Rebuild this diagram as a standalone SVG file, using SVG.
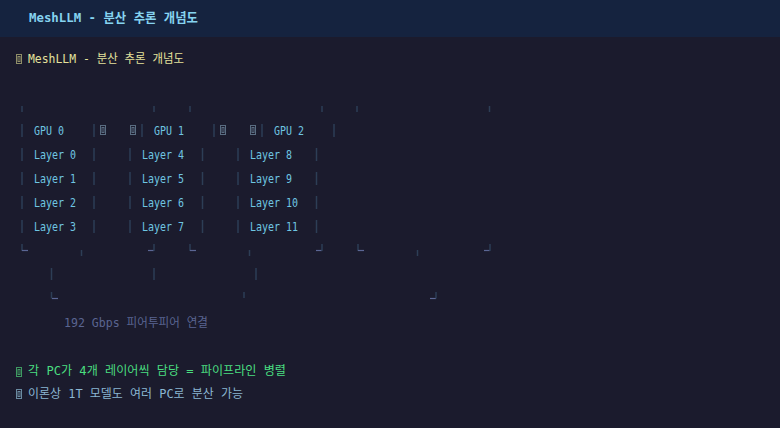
<svg xmlns="http://www.w3.org/2000/svg" width="780" height="428" viewBox="0 0 780 428">
<style>
.t{font-family:"DejaVu Sans Mono","Noto Sans CJK KR",monospace;font-size:12px}
.hd{font-size:13px;font-weight:bold;fill:#86d3f0}
.ttl{fill:#e4e29c}
.gl{fill:#6fc6e2}
.bar{stroke:#2d3e56;stroke-width:1.5}
.hz{stroke:#5b6694;stroke-width:1.2}
.tofu{fill:none;stroke-width:1}
.note{fill:#5a6591}
.ok{fill:#4ade80}
.tip{fill:#8ab6d2}
</style>
<defs>
<g id="tf">
<rect class="tofu" x="0.5" y="0.5" width="5" height="9"/>
<rect class="tofu" x="2" y="2.5" width="2" height="5"/>
</g>
<path id="rb" d="M0,0V13M0,24V37M0,48V61M0,72V85" class="bar"/>
</defs>
<rect width="780" height="428" fill="#1b1b2d"/>
<rect width="780" height="37" fill="#15233f"/>
<text class="t hd" x="29" y="22" textLength="169" lengthAdjust="spacingAndGlyphs">MeshLLM - 분산 추론 개념도</text>

<g id="title">
<use href="#tf" x="16" y="54" stroke="#8f8e68"/>
<text class="t ttl" x="28" y="63" textLength="156" lengthAdjust="spacingAndGlyphs">MeshLLM - 분산 추론 개념도</text>
</g>

<g id="gpu0">
<line class="bar" x1="22" y1="106" x2="22" y2="112"/>
<line class="bar" x1="154" y1="106" x2="154" y2="112"/>
<line class="bar" x1="22" y1="124" x2="22" y2="137"/>
<line class="bar" x1="94" y1="124" x2="94" y2="137"/>
<text class="t gl" x="34" y="135" textLength="30" lengthAdjust="spacingAndGlyphs">GPU 0</text>
<use href="#rb" x="22" y="148"/>
<use href="#rb" x="94" y="148"/>
<text class="t gl" x="34" y="159" textLength="42" lengthAdjust="spacingAndGlyphs">Layer 0</text>
<text class="t gl" x="34" y="183" textLength="42" lengthAdjust="spacingAndGlyphs">Layer 1</text>
<text class="t gl" x="34" y="207" textLength="42" lengthAdjust="spacingAndGlyphs">Layer 2</text>
<text class="t gl" x="34" y="231" textLength="42" lengthAdjust="spacingAndGlyphs">Layer 3</text>
</g>

<g id="gpu1">
<line class="bar" x1="190" y1="106" x2="190" y2="112"/>
<line class="bar" x1="322" y1="106" x2="322" y2="112"/>
<line class="bar" x1="142" y1="124" x2="142" y2="137"/>
<line class="bar" x1="214" y1="124" x2="214" y2="137"/>
<text class="t gl" x="154" y="135" textLength="30" lengthAdjust="spacingAndGlyphs">GPU 1</text>
<use href="#rb" x="130" y="148"/>
<use href="#rb" x="202.5" y="148"/>
<text class="t gl" x="142" y="159" textLength="42" lengthAdjust="spacingAndGlyphs">Layer 4</text>
<text class="t gl" x="142" y="183" textLength="42" lengthAdjust="spacingAndGlyphs">Layer 5</text>
<text class="t gl" x="142" y="207" textLength="42" lengthAdjust="spacingAndGlyphs">Layer 6</text>
<text class="t gl" x="142" y="231" textLength="42" lengthAdjust="spacingAndGlyphs">Layer 7</text>
</g>

<g id="gpu2">
<line class="bar" x1="357" y1="106" x2="357" y2="112"/>
<line class="bar" x1="489.5" y1="106" x2="489.5" y2="112"/>
<line class="bar" x1="262" y1="124" x2="262" y2="137"/>
<line class="bar" x1="334" y1="124" x2="334" y2="137"/>
<text class="t gl" x="274" y="135" textLength="30" lengthAdjust="spacingAndGlyphs">GPU 2</text>
<use href="#rb" x="238" y="148"/>
<use href="#rb" x="316.5" y="148"/>
<text class="t gl" x="250" y="159" textLength="42" lengthAdjust="spacingAndGlyphs">Layer 8</text>
<text class="t gl" x="250" y="183" textLength="42" lengthAdjust="spacingAndGlyphs">Layer 9</text>
<text class="t gl" x="250" y="207" textLength="48" lengthAdjust="spacingAndGlyphs">Layer 10</text>
<text class="t gl" x="250" y="231" textLength="48" lengthAdjust="spacingAndGlyphs">Layer 11</text>
</g>

<g id="connectors">
<use href="#tf" x="100" y="125" stroke="#5a6d82"/>
<use href="#tf" x="130" y="125" stroke="#5a6d82"/>
<use href="#tf" x="220" y="125" stroke="#5a6d82"/>
<use href="#tf" x="250" y="125" stroke="#5a6d82"/>
<line class="bar" x1="22" y1="244" x2="22" y2="251"/>
<line class="hz" x1="22" y1="250.5" x2="28" y2="250.5"/>
<line class="bar" x1="81.5" y1="250" x2="81.5" y2="256"/>
<line class="hz" x1="148" y1="250.5" x2="154" y2="250.5"/>
<line class="bar" x1="154" y1="244" x2="154" y2="251"/>
<line class="bar" x1="190" y1="244" x2="190" y2="251"/>
<line class="hz" x1="190" y1="250.5" x2="196" y2="250.5"/>
<line class="bar" x1="249.5" y1="250" x2="249.5" y2="256"/>
<line class="hz" x1="316" y1="250.5" x2="322" y2="250.5"/>
<line class="bar" x1="322" y1="244" x2="322" y2="251"/>
<line class="bar" x1="358" y1="244" x2="358" y2="251"/>
<line class="hz" x1="358" y1="250.5" x2="364" y2="250.5"/>
<line class="bar" x1="417.5" y1="250" x2="417.5" y2="256"/>
<line class="hz" x1="484" y1="250.5" x2="490" y2="250.5"/>
<line class="bar" x1="490" y1="244" x2="490" y2="251"/>
<line class="bar" x1="51.5" y1="268" x2="51.5" y2="280"/>
<line class="bar" x1="154" y1="268" x2="154" y2="280"/>
<line class="bar" x1="256" y1="268" x2="256" y2="280"/>
<line class="bar" x1="51.5" y1="292" x2="51.5" y2="298.5"/>
<line class="hz" x1="52" y1="298.5" x2="58" y2="298.5"/>
<line class="bar" x1="244" y1="292" x2="244" y2="298"/>
<line class="hz" x1="430" y1="298.5" x2="436" y2="298.5"/>
<line class="bar" x1="436" y1="292" x2="436" y2="298.5"/>
</g>

<g id="link-label">
<text class="t note" x="64" y="327" textLength="144" lengthAdjust="spacingAndGlyphs">192 Gbps 피어투피어 연결</text>
</g>

<g id="notes">
<use href="#tf" x="16" y="367" stroke="#3f9a62"/>
<text class="t ok" x="28" y="375" textLength="258" lengthAdjust="spacingAndGlyphs">각 PC가 4개 레이어씩 담당 = 파이프라인 병렬</text>
<use href="#tf" x="16" y="389" stroke="#6a8aa0"/>
<text class="t tip" x="28" y="398" textLength="215" lengthAdjust="spacingAndGlyphs">이론상 1T 모델도 여러 PC로 분산 가능</text>
</g>
</svg>
